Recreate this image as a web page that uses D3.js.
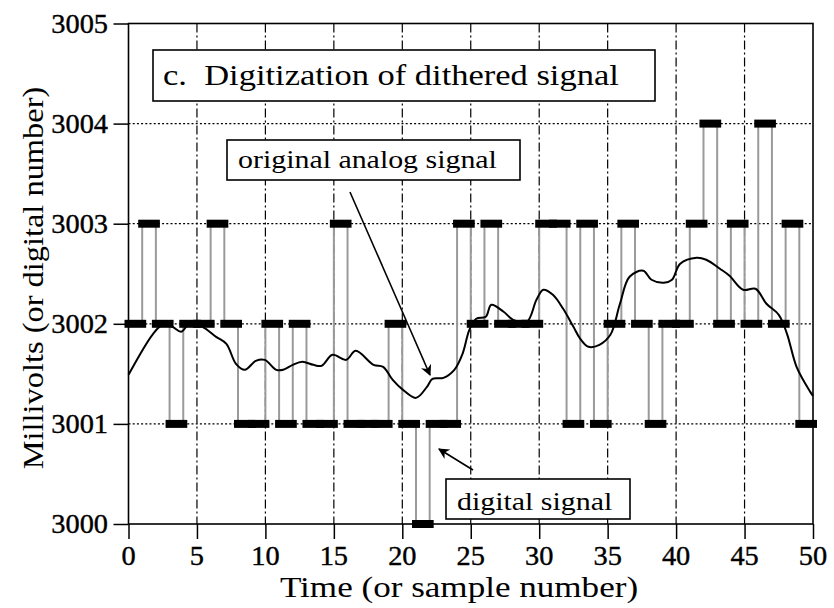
<!DOCTYPE html>
<html>
<head>
<meta charset="utf-8">
<script src="https://cdn.jsdelivr.net/npm/d3@7"></script>
<style>
  body { margin: 0; background: #fff; }
  text { font-family: "Liberation Serif", "Times New Roman", serif; fill: #000; white-space: pre; }
</style>
</head>
<body>
<div id="container"></div>
<script>
const width = 834
const height = 608

// digital number held for each sample, index = sample number
const digital = [
  3002, 3003, 3002, 3001, 3002, 3002, 3003, 3002, 3001, 3001,
  3002, 3001, 3002, 3001, 3001, 3003, 3001, 3001, 3001, 3002,
  3001, 3000, 3001, 3001, 3003, 3002, 3003, 3002, 3002, 3002,
  3003, 3003, 3001, 3003, 3001, 3002, 3003, 3002, 3001, 3002,
  3002, 3003, 3004, 3002, 3003, 3002, 3004, 3002, 3003, 3001
]

// original analog signal
const analogTime = [
  0, 1.8, 2.5, 3.2, 3.85, 4.45, 5.4, 6.4, 7.15, 7.85, 8.5, 9.3, 9.95,
  10.8, 11.3, 12, 12.7, 13.5, 14.1, 14.9, 15.9, 16.6, 17.9, 18.6, 19.3,
  20.05, 21, 21.8, 22.2, 23, 23.8, 24.4, 24.9, 25.4, 26.1, 26.5, 27.4,
  28.1, 29.1, 29.8, 30.3, 31, 31.75, 32.5, 33, 33.6, 34.4, 35.2, 35.9,
  36.6, 37.6, 38.2, 39.1, 39.7, 40.3, 41.5, 42.2, 43.2, 43.9, 44.9, 45.8,
  46.6, 47.5, 48.1, 48.8, 49.8, 50
]
const analogMv = [
  3001.49, 3001.9, 3001.99, 3001.97, 3001.92, 3002.0, 3001.97, 3001.87, 3001.8, 3001.6, 3001.54, 3001.63, 3001.64,
  3001.54, 3001.54, 3001.59, 3001.62, 3001.59, 3001.58, 3001.69, 3001.64, 3001.73, 3001.59, 3001.57, 3001.44,
  3001.34, 3001.26, 3001.37, 3001.45, 3001.46, 3001.54, 3001.7, 3001.94, 3002.05, 3002.07, 3002.19, 3002.12,
  3002.04, 3002.02, 3002.24, 3002.34, 3002.29, 3002.15, 3001.97, 3001.85, 3001.77, 3001.79, 3001.89, 3002.2,
  3002.47, 3002.53, 3002.44, 3002.41, 3002.44, 3002.6, 3002.66, 3002.64, 3002.55, 3002.48, 3002.34, 3002.35,
  3002.2, 3002.09, 3001.9, 3001.57, 3001.32, 3001.28
]

const xTicks = [0, 5, 10, 15, 20, 25, 30, 35, 40, 45, 50]
const yTicks = [3000, 3001, 3002, 3003, 3004, 3005]

const svg = d3.select('#container')
  .append('svg')
  .attr('width', width)
  .attr('height', height)

const x = d3.scaleLinear().domain([0, 50]).range([128.5, 813])
const y = d3.scaleLinear().domain([3000, 3005]).range([524, 23.5])

// stretched serif text, like the original figure
function label (g, str, px, py, size, sx, anchor) {
  return g.append('text')
    .attr('transform', `translate(${px},${py}) scale(${sx},1)`)
    .attr('text-anchor', anchor || 'start')
    .style('font-size', size + 'px')
    .text(str)
}

// grid
const grid = svg.append('g')
grid.selectAll('line.h')
  .data(yTicks.slice(1, -1))
  .enter().append('line')
  .attr('x1', x(0)).attr('x2', x(50))
  .attr('y1', d => y(d)).attr('y2', d => y(d))
  .attr('stroke', '#000').attr('stroke-width', 1.3)
  .attr('stroke-dasharray', '2,2.2')
grid.selectAll('line.v')
  .data(xTicks.slice(1, -1))
  .enter().append('line')
  .attr('x1', d => x(d)).attr('x2', d => x(d))
  .attr('y1', y(3005)).attr('y2', y(3000))
  .attr('stroke', '#000').attr('stroke-width', 1.2)
  .attr('stroke-dasharray', '9,3,2,3')

// axes
const xAxis = d3.axisBottom(x).tickValues(xTicks).tickSize(15).tickFormat('')
const yAxis = d3.axisLeft(y).tickValues(yTicks).tickSize(15).tickFormat('')
svg.append('g').attr('transform', `translate(0,${y(3000)})`).call(xAxis)
  .call(g => g.select('.domain').remove())
  .selectAll('line').attr('stroke-width', 1.5)
svg.append('g').attr('transform', `translate(${x(0)},0)`).call(yAxis)
  .call(g => g.select('.domain').remove())
  .selectAll('line').attr('stroke-width', 1.5)

svg.append('rect')
  .attr('x', x(0)).attr('y', y(3005))
  .attr('width', x(50) - x(0)).attr('height', y(3000) - y(3005))
  .attr('fill', 'none').attr('stroke', '#000').attr('stroke-width', 1.6)

xTicks.forEach(t => label(svg, t, x(t), 565, 27, 1.05, 'middle').attr('stroke', '#000').attr('stroke-width', 0.4))
yTicks.forEach(t => label(svg, t, 108, y(t) + 9, 27, 1.05, 'end').attr('stroke', '#000').attr('stroke-width', 0.4))

label(svg, 'Time (or sample number)', 459, 597, 30, 1.17, 'middle')
svg.append('text')
  .attr('transform', 'translate(43,278) rotate(-90) scale(1.08,1)')
  .attr('text-anchor', 'middle')
  .style('font-size', '30px')
  .text('Millivolts (or digital number)')

// digital signal: gray risers then thick held levels
const risers = d3.range(1, digital.length).map(i => ({ t: i, a: digital[i - 1], b: digital[i] }))
svg.append('g').selectAll('line')
  .data(risers)
  .enter().append('line')
  .attr('x1', d => x(d.t)).attr('x2', d => x(d.t))
  .attr('y1', d => y(d.a)).attr('y2', d => y(d.b))
  .attr('stroke', '#9a9a9a').attr('stroke-width', 2)

svg.append('g').selectAll('line')
  .data(digital)
  .enter().append('line')
  .attr('x1', (d, i) => x(i)).attr('x2', (d, i) => x(i + 1))
  .attr('y1', d => y(d)).attr('y2', d => y(d))
  .attr('stroke', '#000').attr('stroke-width', 8)
  .attr('stroke-linecap', 'square')

// analog signal
const line = d3.line()
  .x((d, i) => x(analogTime[i]))
  .y(d => y(d))
  .curve(d3.curveCatmullRom)
svg.append('path')
  .datum(analogMv)
  .attr('d', line)
  .attr('fill', 'none').attr('stroke', '#000').attr('stroke-width', 2)

// annotations
svg.append('defs').append('marker')
  .attr('id', 'head')
  .attr('viewBox', '0 0 10 10')
  .attr('refX', 9).attr('refY', 5)
  .attr('markerWidth', 11).attr('markerHeight', 11)
  .attr('markerUnits', 'userSpaceOnUse')
  .attr('orient', 'auto')
  .append('path')
  .attr('d', 'M0,0 L10,5 L0,10 L3,5 Z')
  .attr('fill', '#000')

function box (bx, by, bw, bh, str, tx, ty, size, sx) {
  svg.append('rect')
    .attr('x', bx).attr('y', by).attr('width', bw).attr('height', bh)
    .attr('fill', '#fff').attr('stroke', '#000').attr('stroke-width', 1.6)
  label(svg, str, tx, ty, size, sx)
}

box(153, 50, 502, 51, 'c.  Digitization of dithered signal', 163, 85, 30, 1.15)
box(227, 140, 293, 40, 'original analog signal', 238, 168, 26, 1.15)
box(446, 479, 184, 40, 'digital signal', 457, 510, 26, 1.15)

svg.append('line')
  .attr('x1', 350).attr('y1', 192).attr('x2', 430).attr('y2', 375)
  .attr('stroke', '#000').attr('stroke-width', 1.6)
  .attr('marker-end', 'url(#head)')
svg.append('line')
  .attr('x1', 473).attr('y1', 470).attr('x2', 439).attr('y2', 449)
  .attr('stroke', '#000').attr('stroke-width', 1.6)
  .attr('marker-end', 'url(#head)')
</script>
</body>
</html>
